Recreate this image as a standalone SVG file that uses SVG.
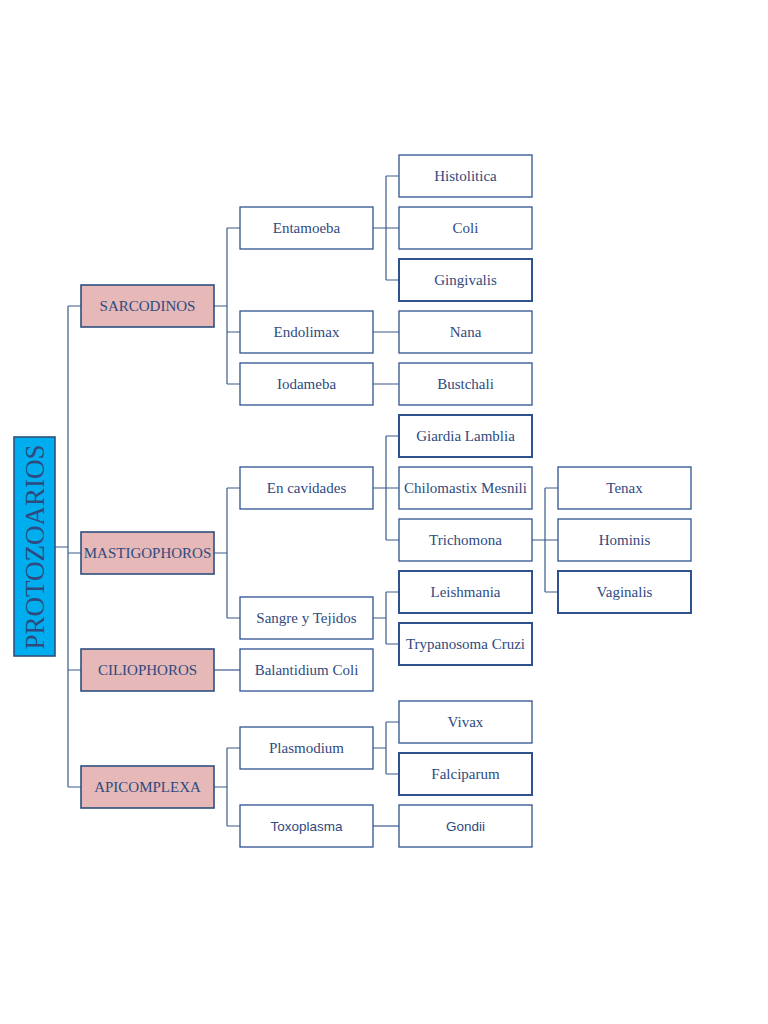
<svg xmlns="http://www.w3.org/2000/svg" width="768" height="1024" viewBox="0 0 768 1024">
<style>
.box{fill:#ffffff;stroke:#2F528F;stroke-width:1.3}
.bold{stroke-width:2}
.l1{fill:#E6B8B7;stroke:#2F4F7F;stroke-width:1.6}
.root{fill:#00AEEF;stroke:#2F4F7F;stroke-width:1.6}
text{font-family:"Liberation Serif","DejaVu Serif",serif;font-size:15px;fill:#2F4A80;text-anchor:middle}
.sans{font-family:"Liberation Sans","DejaVu Sans",sans-serif;font-size:13.5px}
.c path{fill:none;stroke:#3A5A8C;stroke-width:1.2}
</style>
<rect width="768" height="1024" fill="#ffffff"/>
<g class="c" id="connectors">
<path d="M55 547H68M68 306V787M68 306H81M68 553H81M68 670H81M68 787H81"/>
<path d="M214 306H227M227 228V384M227 228H240M227 332H240M227 384H240"/>
<path d="M214 553H227M227 488V618M227 488H240M227 618H240"/>
<path d="M214 670H240"/>
<path d="M214 787H227M227 748V826M227 748H240M227 826H240"/>
<path d="M373 228H386M386 176V280M386 176H399M386 228H399M386 280H399"/>
<path d="M373 332H399M373 384H399"/>
<path d="M373 488H386M386 436V540M386 436H399M386 488H399M386 540H399"/>
<path d="M373 618H386M386 592V644M386 592H399M386 644H399"/>
<path d="M373 748H386M386 722V774M386 722H399M386 774H399"/>
<path d="M373 826H399"/>
<path d="M532 540H545M545 488V592M545 488H558M545 540H558M545 592H558"/>
</g>
<g id="root"><rect class="root" x="14" y="437" width="41" height="219"/><text transform="translate(44 547) rotate(-90)" style="font-size:27px" textLength="205" lengthAdjust="spacingAndGlyphs">PROTOZOARIOS</text></g>
<g id="sarcodinos"><rect class="l1" x="81" y="285" width="133" height="42"/><text x="147.5" y="311">SARCODINOS</text></g>
<g id="mastigophoros"><rect class="l1" x="81" y="532" width="133" height="42"/><text x="147.5" y="558">MASTIGOPHOROS</text></g>
<g id="ciliophoros"><rect class="l1" x="81" y="649" width="133" height="42"/><text x="147.5" y="675">CILIOPHOROS</text></g>
<g id="apicomplexa"><rect class="l1" x="81" y="766" width="133" height="42"/><text x="147.5" y="792">APICOMPLEXA</text></g>
<g id="entamoeba"><rect class="box" x="240" y="207" width="133" height="42"/><text x="306.5" y="233">Entamoeba</text></g>
<g id="endolimax"><rect class="box" x="240" y="311" width="133" height="42"/><text x="306.5" y="337">Endolimax</text></g>
<g id="iodameba"><rect class="box" x="240" y="363" width="133" height="42"/><text x="306.5" y="389">Iodameba</text></g>
<g id="en-cavidades"><rect class="box" x="240" y="467" width="133" height="42"/><text x="306.5" y="493">En cavidades</text></g>
<g id="sangre-tejidos"><rect class="box" x="240" y="597" width="133" height="42"/><text x="306.5" y="623">Sangre y Tejidos</text></g>
<g id="balantidium"><rect class="box" x="240" y="649" width="133" height="42"/><text x="306.5" y="675">Balantidium Coli</text></g>
<g id="plasmodium"><rect class="box" x="240" y="727" width="133" height="42"/><text x="306.5" y="753">Plasmodium</text></g>
<g id="toxoplasma"><rect class="box" x="240" y="805" width="133" height="42"/><text class="sans" x="306.5" y="831">Toxoplasma</text></g>
<g id="histolitica"><rect class="box" x="399" y="155" width="133" height="42"/><text x="465.5" y="181">Histolitica</text></g>
<g id="coli"><rect class="box" x="399" y="207" width="133" height="42"/><text x="465.5" y="233">Coli</text></g>
<g id="gingivalis"><rect class="box bold" x="399" y="259" width="133" height="42"/><text x="465.5" y="285">Gingivalis</text></g>
<g id="nana"><rect class="box" x="399" y="311" width="133" height="42"/><text x="465.5" y="337">Nana</text></g>
<g id="bustchali"><rect class="box" x="399" y="363" width="133" height="42"/><text x="465.5" y="389">Bustchali</text></g>
<g id="giardia"><rect class="box bold" x="399" y="415" width="133" height="42"/><text x="465.5" y="441">Giardia Lamblia</text></g>
<g id="chilomastix"><rect class="box" x="399" y="467" width="133" height="42"/><text x="465.5" y="493">Chilomastix Mesnili</text></g>
<g id="trichomona"><rect class="box" x="399" y="519" width="133" height="42"/><text x="465.5" y="545">Trichomona</text></g>
<g id="leishmania"><rect class="box bold" x="399" y="571" width="133" height="42"/><text x="465.5" y="597">Leishmania</text></g>
<g id="trypanosoma"><rect class="box bold" x="399" y="623" width="133" height="42"/><text x="465.5" y="649">Trypanosoma Cruzi</text></g>
<g id="vivax"><rect class="box" x="399" y="701" width="133" height="42"/><text x="465.5" y="727">Vivax</text></g>
<g id="falciparum"><rect class="box bold" x="399" y="753" width="133" height="42"/><text x="465.5" y="779">Falciparum</text></g>
<g id="gondii"><rect class="box" x="399" y="805" width="133" height="42"/><text class="sans" x="465.5" y="831">Gondii</text></g>
<g id="tenax"><rect class="box" x="558" y="467" width="133" height="42"/><text x="624.5" y="493">Tenax</text></g>
<g id="hominis"><rect class="box" x="558" y="519" width="133" height="42"/><text x="624.5" y="545">Hominis</text></g>
<g id="vaginalis"><rect class="box bold" x="558" y="571" width="133" height="42"/><text x="624.5" y="597">Vaginalis</text></g>
</svg>
